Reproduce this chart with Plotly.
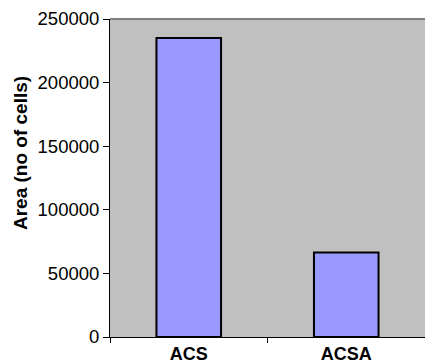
import plotly.graph_objects as go

# Cell-count area per group
categories = ["ACS", "ACSA"]
area_cells = [235000, 66500]
y_ticks = [0, 50000, 100000, 150000, 200000, 250000]

FONT = "Liberation Sans, Arial, sans-serif"

fig = go.Figure(
    go.Bar(
        x=categories,
        y=area_cells,
        marker=dict(color="#9999FF", line=dict(color="#000000", width=2)),
        hoverinfo="x+y",
    )
)

fig.update_layout(
    width=425,
    height=364,
    margin=dict(l=110, r=0, t=19, b=22),
    paper_bgcolor="#FFFFFF",
    plot_bgcolor="#C0C0C0",
    bargap=0.59,
    showlegend=False,
    font=dict(family=FONT, color="#000000"),
)

fig.update_xaxes(
    type="category",
    tickson="boundaries",
    ticks="outside",
    ticklen=5,
    tickwidth=1,
    tickcolor="#000000",
    showline=True,
    linecolor="#000000",
    linewidth=1,
    showgrid=False,
    tickfont=dict(family=FONT, size=18, color="#000000", weight="bold"),
)

fig.update_yaxes(
    range=[0, 250000],
    tickvals=y_ticks,
    tickformat="d",
    ticks="outside",
    ticklen=6,
    tickwidth=1,
    tickcolor="#000000",
    showline=True,
    linecolor="#000000",
    linewidth=1,
    showgrid=False,
    zeroline=False,
    tickfont=dict(family=FONT, size=18.5, color="#000000"),
)

# Axis title placed as a rotated annotation
fig.add_annotation(
    text="<b>Area (no of cells)</b>",
    xref="paper", yref="paper",
    x=-0.282, y=0.579,
    textangle=-90,
    showarrow=False,
    font=dict(family=FONT, size=19, color="#000000"),
    xanchor="center", yanchor="middle",
)

# Grey frame line along the top of the plot area
fig.add_shape(
    type="line", xref="paper", yref="paper",
    x0=0, x1=1, y0=1, y1=1,
    line=dict(color="#808080", width=2),
)

fig.write_html("out.html")
